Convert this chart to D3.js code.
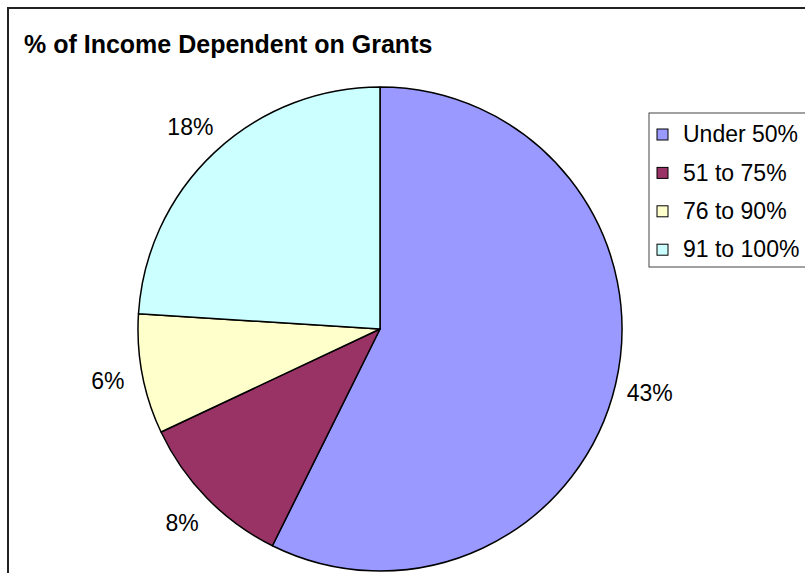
<!DOCTYPE html>
<html>
<head>
<meta charset="utf-8">
<script src="https://cdn.jsdelivr.net/npm/d3@7"></script>
<style>
  html, body { margin: 0; padding: 0; background: #fff; }
  svg { display: block; font-family: "Liberation Sans", Arial, sans-serif; }
</style>
</head>
<body>
<svg id="chart" width="805" height="573"></svg>
<script>
// Share of organisations by how much of their income depends on grants
const categories = ["Under 50%", "51 to 75%", "76 to 90%", "91 to 100%"];
const values = [43, 8, 6, 18];
const colors = ["#9999FF", "#993366", "#FFFFCC", "#CCFFFF"];
const title = "% of Income Dependent on Grants";

const svg = d3.select("#chart");
const W = 805, H = 573;

// Outer chart frame (runs off the right and bottom edges)
svg.append("rect")
  .attr("x", 8).attr("y", 8)
  .attr("width", W + 20).attr("height", H + 20)
  .attr("fill", "#fff")
  .attr("stroke", "#222").attr("stroke-width", 2);

svg.append("text")
  .attr("x", 24).attr("y", 53)
  .attr("font-size", 25).attr("font-weight", "bold")
  .attr("fill", "#000")
  .text(title);

const cx = 380, cy = 329, r = 242;
const data = categories.map((c, i) => ({ name: c, value: values[i], color: colors[i] }));

const pie = d3.pie().value(d => d.value).sort(null);
const arcs = pie(data);
const arc = d3.arc().innerRadius(0).outerRadius(r);
const labelArc = d3.arc().innerRadius(277).outerRadius(277);

const g = svg.append("g").attr("transform", `translate(${cx},${cy})`);

g.selectAll("path.slice")
  .data(arcs)
  .join("path")
  .attr("class", "slice")
  .attr("d", arc)
  .attr("fill", d => d.data.color)
  .attr("stroke", "#000")
  .attr("stroke-width", 1.5)
  .attr("stroke-linejoin", "round");

g.selectAll("text.lbl")
  .data(arcs)
  .join("text")
  .attr("class", "lbl")
  .attr("x", d => labelArc.centroid(d)[0])
  .attr("y", d => labelArc.centroid(d)[1])
  .attr("dy", "0.36em")
  .attr("text-anchor", "middle")
  .attr("font-size", 23)
  .attr("fill", "#000")
  .text(d => d.data.value + "%");

// Legend
const lg = svg.append("g").attr("transform", "translate(649,113)");
lg.append("rect")
  .attr("x", 0).attr("y", 0)
  .attr("width", 200).attr("height", 154)
  .attr("fill", "#fff")
  .attr("stroke", "#444").attr("stroke-width", 1);

const row = lg.selectAll("g.row")
  .data(data)
  .join("g")
  .attr("class", "row")
  .attr("transform", (d, i) => `translate(0,${21 + i * 38.4})`);

row.append("rect")
  .attr("x", 8).attr("y", -5)
  .attr("width", 11).attr("height", 11)
  .attr("fill", d => d.color)
  .attr("stroke", "#000").attr("stroke-width", 1);

row.append("text")
  .attr("x", 34).attr("y", 0)
  .attr("dy", "0.36em")
  .attr("font-size", 23)
  .attr("fill", "#000")
  .text(d => d.name);
</script>
</body>
</html>
